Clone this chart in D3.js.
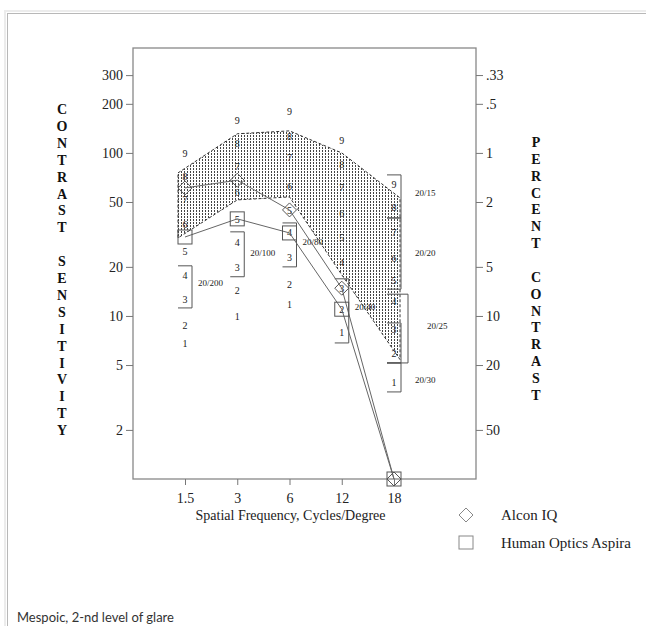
<!DOCTYPE html>
<html><head><meta charset="utf-8">
<script src="https://cdn.jsdelivr.net/npm/d3@7"></script>
<style>body{margin:0;background:#fff;} svg{display:block}</style>
</head><body>
<svg id="chart" width="646" height="626"></svg>
<script>
// ---------- data ----------
const frequencies = ["1.5", "3", "6", "12", "18"];
const alconIQ = [61, 68, 44.7, 14.8, 1];
const humanOpticsAspira = [30.5, 39.4, 32.3, 11.0, 1];
const normUpper = [75.4, 131, 136.5, 100, 53];
const normLower = [30.1, 51.5, 53.7, 17.9, 5.4];
const levelLabels = ["1", "2", "3", "4", "5", "6", "7", "8", "9"];
const levels15 = [6.8, 8.8, 12.7, 17.8, 24.7, 36.2, 51.5, 71.3, 98.6];
const levels3 = [9.86, 14.4, 19.7, 28.4, 38.8, 56.9, 82, 115, 159];
const levels6 = [11.8, 15.7, 22.7, 32.3, 44.1, 61.9, 93.2, 125.4, 178.5];
const levels12 = [7.9, 11.0, 14.8, 21.4, 30.1, 42.8, 61.0, 84.4, 118.5];
const levels18 = [3.88, 5.85, 8.3, 12.2, 16.6, 22.4, 32.3, 46.0, 63.6];
const leftTicks = [2, 5, 10, 20, 50, 100, 200, 300];
const rightTicks = [50, 20, 10, 5, 2, 1, 0.5, 0.333];
const rightTickLabels = ["50", "20", "10", "5", "2", "1", ".5", ".33"];
const acuityLabels = ["20/200", "20/100", "20/80", "20/40", "20/15", "20/20", "20/25", "", "20/30"];
const acuityFreq = ["1.5", "3", "6", "12", "18", "18", "18", "18", "18"];
const acuityTop = [20.3, 32.8, 37.2, 16.9, 73.3, 39.9, 13.6, 9.06, 5.15];
const acuityBottom = [11.2, 17.4, 20.0, 6.83, 39.9, 14.6, 5.15, 5.15, 3.42];
const acuityLabelAt = [15.9, 24.4, 28.4, 11.4, 56.9, 24.4, 8.7, null, 4.05];
const seriesNames = ["Alcon IQ", "Human Optics Aspira"];
const yTitleLeft = "CONTRAST SENSITIVITY";
const yTitleRight = "PERCENT CONTRAST";
const xTitle = "Spatial Frequency, Cycles/Degree";
const caption = "Mespoic, 2-nd level of glare";

// ---------- layout ----------
const L = 133, R = 476, T = 48, B = 479;
const serif = "'Liberation Serif', 'Times New Roman', serif";
const svg = d3.select("#chart");

// outer frame
svg.append("rect").attr("x", 5).attr("y", 11).attr("width", 700).attr("height", 700)
  .attr("fill", "none").attr("stroke", "#ececec").attr("stroke-width", 2);
svg.append("rect").attr("x", 7.5).attr("y", 13.5).attr("width", 700).attr("height", 700)
  .attr("fill", "#fff").attr("stroke", "#b8b8b8").attr("stroke-width", 1);

const x = d3.scalePoint().domain(frequencies).range([185, 394]);
const y = d3.scaleLog().domain([1, 440]).range([B, T]);
const yPct = d3.scaleLog().domain([100, 100 / 440]).range([B, T]);

// hatch pattern
const defs = svg.append("defs");
const pat = defs.append("pattern").attr("id", "hatch").attr("patternUnits", "userSpaceOnUse")
  .attr("width", 3).attr("height", 3);
pat.append("rect").attr("width", 3).attr("height", 3).attr("fill", "#fff");
pat.append("rect").attr("x", 1).attr("y", 0).attr("width", 1).attr("height", 2).attr("fill", "#444");

// norm band
const bandPts = [];
frequencies.forEach((f, i) => {
  let px = x(f);
  if (i === 0) px -= 7;
  if (i === frequencies.length - 1) px += 6;
  bandPts.push([px, y(normUpper[i])]);
});
for (let i = frequencies.length - 1; i >= 0; i--) {
  let px = x(frequencies[i]);
  if (i === 0) px -= 7;
  if (i === frequencies.length - 1) px += 6;
  bandPts.push([px, y(normLower[i])]);
}
svg.append("path").attr("d", d3.line()(bandPts) + "Z")
  .attr("fill", "url(#hatch)").attr("stroke", "#333").attr("stroke-width", 1)
  .attr("stroke-dasharray", "3,2");

// plot frame
svg.append("rect").attr("x", L).attr("y", T).attr("width", R - L).attr("height", B - T)
  .attr("fill", "none").attr("stroke", "#888").attr("stroke-width", 1.3);

// axes
function styleAxis(g) {
  g.select(".domain").remove();
  g.selectAll(".tick line").attr("stroke", "#777");
  g.selectAll(".tick text").attr("fill", "#222").style("font-family", serif).style("font-size", "14px");
}
svg.append("g").attr("transform", `translate(${L},0)`)
  .call(d3.axisLeft(y).tickValues(leftTicks).tickFormat(d3.format("d")).tickSize(7).tickPadding(3))
  .call(styleAxis);
svg.append("g").attr("transform", `translate(${R},0)`)
  .call(d3.axisRight(yPct).tickValues(rightTicks).tickFormat((d, i) => rightTickLabels[i]).tickSize(7).tickPadding(3))
  .call(styleAxis);
svg.append("g").attr("transform", `translate(0,${B})`)
  .call(d3.axisBottom(x).tickSize(6).tickPadding(8))
  .call(styleAxis);

// level labels
const levelCols = [levels15, levels3, levels6, levels12, levels18];
levelCols.forEach((col, ci) => {
  col.forEach((v, li) => {
    svg.append("text").attr("x", x(frequencies[ci])).attr("y", y(v)).attr("dy", "0.35em")
      .attr("text-anchor", "middle").style("font-family", serif).style("font-size", "10px")
      .attr("fill", "#222").text(levelLabels[li]);
  });
});

// acuity brackets
acuityLabels.forEach((lab, i) => {
  const cx = x(acuityFreq[i]);
  const x0 = cx - 7;
  const x1 = lab === "20/25" ? cx + 14 : cx + 7;
  const y0 = y(acuityTop[i]), y1 = y(acuityBottom[i]);
  svg.append("path").attr("d", `M${x0},${y0}H${x1}V${y1}H${x0}`)
    .attr("fill", "none").attr("stroke", "#555").attr("stroke-width", 1);
  if (lab) {
    const off = acuityFreq[i] === "18" ? (lab === "20/25" ? 33 : 21) : 13;
    svg.append("text").attr("x", cx + off).attr("y", y(acuityLabelAt[i])).attr("dy", "0.35em")
      .style("font-family", serif).style("font-size", "9px").attr("fill", "#222").text(lab);
  }
});

// series lines
const line = d3.line().x((d, i) => x(frequencies[i])).y(d => y(d));
svg.append("path").attr("d", line(alconIQ)).attr("fill", "none").attr("stroke", "#666").attr("stroke-width", 1);
svg.append("path").attr("d", line(humanOpticsAspira)).attr("fill", "none").attr("stroke", "#666").attr("stroke-width", 1);

// markers
const diamond = (cx, cy, r) => `M${cx},${cy - r}L${cx + r},${cy}L${cx},${cy + r}L${cx - r},${cy}Z`;
alconIQ.forEach((v, i) => {
  svg.append("path").attr("d", diamond(x(frequencies[i]), y(v), 7))
    .attr("fill", "none").attr("stroke", "#555").attr("stroke-width", 1);
});
humanOpticsAspira.forEach((v, i) => {
  svg.append("rect").attr("x", x(frequencies[i]) - 7).attr("y", y(v) - 7).attr("width", 14).attr("height", 14)
    .attr("fill", "none").attr("stroke", "#555").attr("stroke-width", 1);
});

// titles
function stacked(str, cx, y0, step) {
  const g = svg.append("text").attr("text-anchor", "middle")
    .style("font-family", serif).style("font-size", "14px").style("font-weight", "bold").attr("fill", "#111");
  str.split("").forEach((ch, i) => {
    g.append("tspan").attr("x", cx).attr("y", y0 + i * step).text(ch === " " ? "\u00a0" : ch);
  });
}
stacked(yTitleLeft, 62, 114, 16.9);
stacked(yTitleRight, 536, 147, 16.85);

svg.append("text").attr("x", (L + R) / 2 - 14).attr("y", 520).attr("text-anchor", "middle")
  .style("font-family", serif).style("font-size", "14px").attr("fill", "#222").text(xTitle);

// legend
svg.append("path").attr("d", diamond(466, 515, 7)).attr("fill", "none").attr("stroke", "#888").attr("stroke-width", 1);
svg.append("rect").attr("x", 459).attr("y", 536).attr("width", 14).attr("height", 13)
  .attr("fill", "none").attr("stroke", "#888").attr("stroke-width", 1);
svg.append("text").attr("x", 501).attr("y", 520).style("font-family", serif).style("font-size", "15px")
  .attr("fill", "#222").text(seriesNames[0]);
svg.append("text").attr("x", 501).attr("y", 548).style("font-family", serif).style("font-size", "15px")
  .attr("fill", "#222").text(seriesNames[1]);

// caption
svg.append("text").attr("x", 17).attr("y", 622).style("font-family", "Lato, 'Open Sans', sans-serif")
  .style("font-size", "13px").attr("fill", "#333").text(caption);
</script>
</body></html>
